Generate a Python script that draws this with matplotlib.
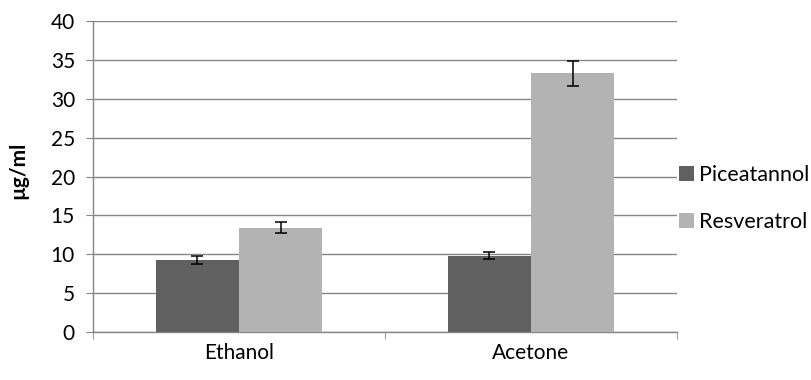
import numpy as np
import matplotlib.pyplot as plt

plt.rcParams['font.family'] = ['Lato', 'DejaVu Sans']

# data
solvents = ["Ethanol", "Acetone"]
piceatannol = [9.25, 9.8]
piceatannol_err = [0.5, 0.45]
resveratrol = [13.4, 33.25]
resveratrol_err = [0.7, 1.65]

fig = plt.figure(figsize=(8.12, 3.8), dpi=100)
ax = fig.add_axes([0.1145, 0.1263, 0.7192, 0.8184])

x = np.arange(len(solvents))
w = 0.285
err_kw = dict(ecolor="black", elinewidth=1.1, capsize=4, capthick=1.1)
ax.bar(x - w / 2, piceatannol, w, yerr=piceatannol_err, color="#606060",
       label="Piceatannol", error_kw=err_kw, zorder=3)
ax.bar(x + w / 2, resveratrol, w, yerr=resveratrol_err, color="#b3b3b3",
       label="Resveratrol", error_kw=err_kw, zorder=3)

ax.set_xlim(-0.5, 1.5)
ax.set_ylim(0, 40)
ax.set_yticks(np.arange(0, 41, 5))
ax.set_xticks(x)
ax.set_xticklabels(solvents)
ax.set_xticks([-0.5, 0.5, 1.5], minor=True)
ax.tick_params(axis="x", which="major", length=0, labelsize=15, pad=8)
ax.tick_params(axis="x", which="minor", length=5, color="#868686", direction="out")
ax.tick_params(axis="y", length=5, color="#868686", labelsize=15, pad=8)

ax.grid(axis="y", color="#868686", linewidth=1, zorder=0)
for side in ["top", "right"]:
    ax.spines[side].set_visible(False)
for side in ["left", "bottom"]:
    ax.spines[side].set_color("#868686")
    ax.spines[side].set_linewidth(1)

ax.set_ylabel("µg/ml", fontsize=15, fontweight="bold", labelpad=-2)
ax.yaxis.set_label_coords(-0.11, 0.52)

fig.legend(loc="center left", bbox_to_anchor=(0.836, 0.478), frameon=False,
           fontsize=15.5, handlelength=0.7, handleheight=0.7, handletextpad=0.25,
           labelspacing=1.25, borderaxespad=0, borderpad=0)

fig.savefig("out.png", dpi=100)
